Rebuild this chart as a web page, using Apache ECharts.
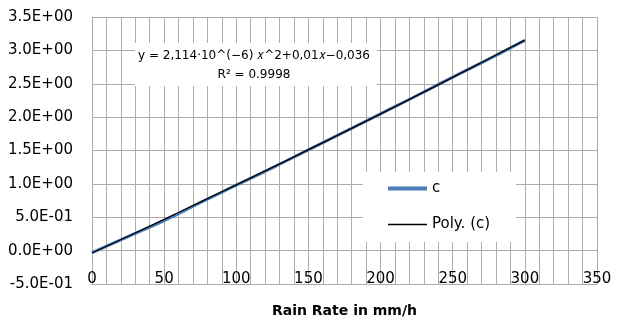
<!DOCTYPE html>
<html><head><meta charset="utf-8">
<script src="https://cdn.jsdelivr.net/npm/echarts@6/dist/echarts.min.js"></script>
<style>html,body{margin:0;padding:0;background:#fff}#c{width:620px;height:322px}</style>
</head><body><div id="c"></div>
<script>
// Data
const rainRate = [0, 25, 50, 75, 100, 125, 150, 175, 200, 225, 250, 275, 300];
const cValues = [-0.03, 0.21, 0.45, 0.72, 0.98, 1.24, 1.51, 1.78, 2.05, 2.32, 2.60, 2.87, 3.15];
const polyValues = [-0.036, 0.215, 0.469, 0.727, 0.985, 1.247, 1.512, 1.779, 2.049, 2.321, 2.596, 2.874, 3.154];
const seriesNames = ['c', 'Poly. (c)'];
const trendText = ['y = 2,114·10^(−6) 𝑥^2+0,01𝑥−0,036', 'R² = 0.9998'];
const xTitle = 'Rain Rate in mm/h';

const FONT = '"DejaVu Sans", sans-serif';
const GRID = '#acacac';
const chart = echarts.init(document.getElementById('c'), null, {renderer: 'canvas'});
function fmtY(v) {
  if (Math.abs(v) < 1e-12) return '0.0E+00';
  let e = Math.floor(Math.log10(Math.abs(v)) + 1e-9);
  let m = v / Math.pow(10, e);
  let s = e < 0 ? '-' : '+';
  let ae = Math.abs(e);
  return m.toFixed(1) + 'E' + s + (ae < 10 ? '0' + ae : ae);
}
chart.setOption({
  animation: false,
  grid: {left: 92, right: 23, top: 17, bottom: 38, containLabel: false, outerBoundsMode: 'none'},
  xAxis: {
    type: 'value', min: 0, max: 350, interval: 10,
    axisLine: {onZero: false, lineStyle: {color: GRID, width: 1}},
    axisTick: {show: false},
    axisLabel: {
      margin: -12, fontFamily: FONT, fontSize: 15, color: '#000',
      formatter: v => (v % 50 === 0 ? String(v) : '')
    },
    splitLine: {show: true, lineStyle: {color: GRID, width: 1}},
    name: xTitle, nameLocation: 'middle', nameGap: 20,
    nameTextStyle: {fontFamily: FONT, fontSize: 14, fontWeight: 'bold', color: '#000'}
  },
  yAxis: {
    type: 'value', min: -0.5, max: 3.5, interval: 0.5,
    axisLine: {show: true, onZero: false, lineStyle: {color: GRID, width: 1}},
    axisTick: {show: false},
    axisLabel: {margin: 19, fontFamily: FONT, fontSize: 15, color: '#000', formatter: fmtY},
    splitLine: {show: true, lineStyle: {color: GRID, width: 1}}
  },
  legend: {
    orient: 'vertical', left: 363, top: 172,
    backgroundColor: '#fff', padding: [9, 26, 10, 25],
    itemWidth: 39, itemHeight: 14, itemGap: 21,
    textStyle: {fontFamily: FONT, fontSize: 15, color: '#000'},
    data: [
      {name: seriesNames[0], icon: 'path://M0,0L40,0L40,4L0,4Z', itemStyle: {color: '#4A7EBB'}},
      {name: seriesNames[1], icon: 'path://M0,0L40,0L40,1.5L0,1.5Z', itemStyle: {color: '#000'}}
    ]
  },
  graphic: [
    {type: 'rect', shape: {x: 135, y: 43, width: 242, height: 43}, style: {fill: '#fff'}, z: 50},
    {type: 'text', x: 254, y: 56, style: {text: trendText[0], fontFamily: FONT, fontSize: 12, fill: '#000', align: 'center', verticalAlign: 'middle'}, z: 51},
    {type: 'text', x: 254, y: 75, style: {text: trendText[1], fontFamily: FONT, fontSize: 12, fill: '#000', align: 'center', verticalAlign: 'middle'}, z: 51}
  ],
  series: [
    {name: seriesNames[0], type: 'line', showSymbol: false, symbol: 'none', smooth: true,
     data: rainRate.map((x, i) => [x, cValues[i]]),
     lineStyle: {color: '#4A7EBB', width: 3}, itemStyle: {color: '#4A7EBB'}, z: 3},
    {name: seriesNames[1], type: 'line', showSymbol: false, symbol: 'none', smooth: true,
     data: rainRate.map((x, i) => [x, polyValues[i]]),
     lineStyle: {color: '#000', width: 1.3}, itemStyle: {color: '#000'}, z: 4}
  ]
});
</script></body></html>
